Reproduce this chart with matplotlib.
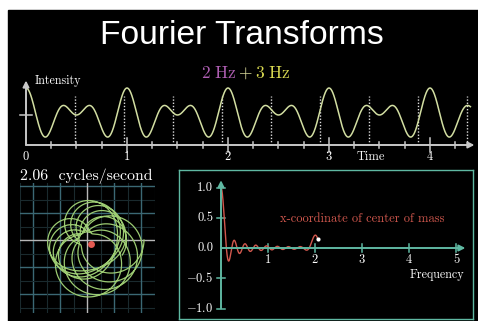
import numpy as np
import matplotlib

matplotlib.use("Agg")
import matplotlib.pyplot as plt
from matplotlib.patches import Rectangle

W, H, DPI = 478, 321, 100

# signal = offset + amp * (cos 2*pi*2t + cos 2*pi*3t), sampled for `duration` seconds
signal_freqs = [2.0, 3.0]
signal_amp = 0.45
signal_offset = 1.0
duration = 4.4
winding_freq = 2.06

time_ticks = [0, 1, 2, 3, 4]
freq_ticks = [1, 2, 3, 4, 5]
com_ticks = [-1.0, -0.5, 0.5, 1.0]
com_tick_labels = ["$-1.0$", "$-0.5$", "0.5", "1.0"]

BG = "black"
SIGNAL_C = "#d2dea2"
AXIS_C = "#c8c8c8"
WIND_C = "#9ccb72"
TEAL = "#5fb8a2"
RED = "#d2584e"
GRID_C = "#3b6874"
GRID_FAINT = "#1a2a2e"
SERIF = "cmr10"

plt.rcParams["mathtext.fontset"] = "cm"
plt.rcParams["axes.unicode_minus"] = False


def box(x0, y0, x1, y1):
    """Pixel box (origin top-left) -> figure fraction rect."""
    return [x0 / W, 1 - y1 / H, (x1 - x0) / W, (y1 - y0) / H]


def bare_axes(fig, rect, xlim, ylim):
    ax = fig.add_axes(rect)
    ax.set_xlim(*xlim)
    ax.set_ylim(*ylim)
    ax.set_facecolor("none")
    ax.set_xticks([])
    ax.set_yticks([])
    for s in ax.spines.values():
        s.set_visible(False)
    return ax


def arrow(ax, start, tip, color, lw=1.4):
    ax.annotate("", xy=tip, xytext=start,
                arrowprops=dict(arrowstyle="-|>", color=color, lw=lw,
                                mutation_scale=9, shrinkA=0, shrinkB=0),
                annotation_clip=False)


def signal(t):
    return signal_offset + signal_amp * sum(np.cos(2 * np.pi * f * t) for f in signal_freqs)


t = np.linspace(0, duration, 3000)
g = signal(t)
z = g * np.exp(-2j * np.pi * winding_freq * t)
com = z.mean()
nu = np.linspace(0, winding_freq, 800)
com_x = np.array([np.mean(g * np.cos(2 * np.pi * v * t)) for v in nu])

fig = plt.figure(figsize=(W / DPI, H / DPI), dpi=DPI, facecolor="white")
fig.patches.append(Rectangle((8 / W, 0), 1 - 8 / W, 1 - 10 / H,
                             transform=fig.transFigure, color=BG, zorder=-10))

fig.text(242 / W, 1 - 36 / H, "Fourier Transforms", color="white",
         fontsize=24.2, family="Liberation Sans", ha="center", va="center")
fig.text(237 / W, 1 - 73 / H, r"$\mathrm{2\ Hz}$", color="#b05fb4",
         fontsize=12.5, ha="right", va="center")
fig.text(245 / W, 1 - 73 / H, r"$+$", color="#e2e2a0",
         fontsize=12.5, ha="center", va="center")
fig.text(255 / W, 1 - 73 / H, r"$\mathrm{3\ Hz}$", color="#d9d951",
         fontsize=12.5, ha="left", va="center")

# --- time-domain signal -------------------------------------------------
x0px, px_t = 26, 101.0
y0px, px_g = 145, 30.0
ax = bare_axes(fig, box(8, 70, 478, 170),
               ((8 - x0px) / px_t, (478 - x0px) / px_t),
               ((y0px - 170) / px_g, (y0px - 70) / px_g))
for k in range(1, int(duration * winding_freq) + 1):
    tk = k / winding_freq
    ax.plot([tk, tk], [0, 1.65], color="#dddddd", lw=1, ls=(0, (1, 1.3)))
ax.plot(t, g, color=SIGNAL_C, lw=1.1)
arrow(ax, (0, 0), (duration + 0.04, 0), AXIS_C)
arrow(ax, (0, 0), (0, 2.15), AXIS_C)
for q in np.arange(0.25, duration, 0.25):
    h = 0.22 if q in time_ticks else 0.1
    ax.plot([q, q], [-h, h], color=AXIS_C, lw=1.1)
ax.plot([-0.06, 0.06], [1.0, 1.0], color=AXIS_C, lw=1.1)
for q in time_ticks:
    ax.text(q, -0.4, str(q), family=SERIF, fontsize=9, color="white",
            ha="center", va="center")
ax.text(3.41, -0.4, "Time", family=SERIF, fontsize=9, color="white",
        ha="center", va="center")
ax.text(0.09, 2.13, "Intensity", family=SERIF, fontsize=8.7, color="white",
        ha="left", va="center")

# --- wound-up signal ----------------------------------------------------
ox, oy, px_w = 87, 240, 30.0
grid_step = 0.9
ax = bare_axes(fig, box(20, 183, 155, 313),
               ((20 - ox) / px_w, (155 - ox) / px_w),
               ((oy - 313) / px_w, (oy - 183) / px_w))
for k in np.arange(-3, 3.5, 0.5):
    c, lw = (GRID_FAINT, 0.8) if k % 1 else (GRID_C, 1.0)
    if k == 0:
        continue
    ax.axvline(k * grid_step, color=c, lw=lw)
    ax.axhline(k * grid_step, color=c, lw=lw)
ax.axvline(0, color="#b8b8b8", lw=1)
ax.axhline(0, color="#b8b8b8", lw=1)
ax.plot(z.real, z.imag, color=WIND_C, lw=0.9)
ax.plot(com.real, com.imag, "o", color="#e45a52", ms=5, mew=0)
fig.text(20 / W, 1 - 176 / H, "2.06  cycles/second", family=SERIF,
         fontsize=11.4, color="white", ha="left", va="center")

# --- center of mass vs frequency ---------------------------------------
fx, px_f = 221, 47.0
fy, px_c = 248, 60.5
ax = bare_axes(fig, box(179, 170, 473, 319),
               ((179 - fx) / px_f, (473 - fx) / px_f),
               ((fy - 319) / px_c, (fy - 170) / px_c))
for s in ax.spines.values():
    s.set_visible(True)
    s.set_color(TEAL)
    s.set_linewidth(1.0)
arrow(ax, (0, 0), (5.2, 0), TEAL)
arrow(ax, (0, -1.0), (0, 1.12), TEAL)
for q in freq_ticks:
    ax.plot([q, q], [-0.06, 0.06], color=TEAL, lw=1.1)
    ax.text(q, -0.2, str(q), family=SERIF, fontsize=9, color="white",
            ha="center", va="center")
for q, lab in zip(com_ticks, com_tick_labels):
    ax.plot([-0.08, 0.08], [q, q], color=TEAL, lw=1.1)
    ax.text(-0.17, q, lab, family=SERIF, fontsize=9, color="white",
            ha="right", va="center")
ax.text(-0.17, 0.0, "0.0", family=SERIF, fontsize=9, color="white",
        ha="right", va="center")
ax.plot(nu, com_x, color=RED, lw=1.0)
ax.plot(nu[-1], com_x[-1], "o", color="white", ms=3, mew=0)
ax.text(4.6, -0.45, "Frequency", family=SERIF, fontsize=8.7, color="white",
        ha="center", va="center")
ax.text(3.0, 0.48, "x-coordinate of center of mass", family=SERIF,
        fontsize=9, color=RED, ha="center", va="center")

fig.savefig("out.png", dpi=DPI, facecolor=fig.get_facecolor())
